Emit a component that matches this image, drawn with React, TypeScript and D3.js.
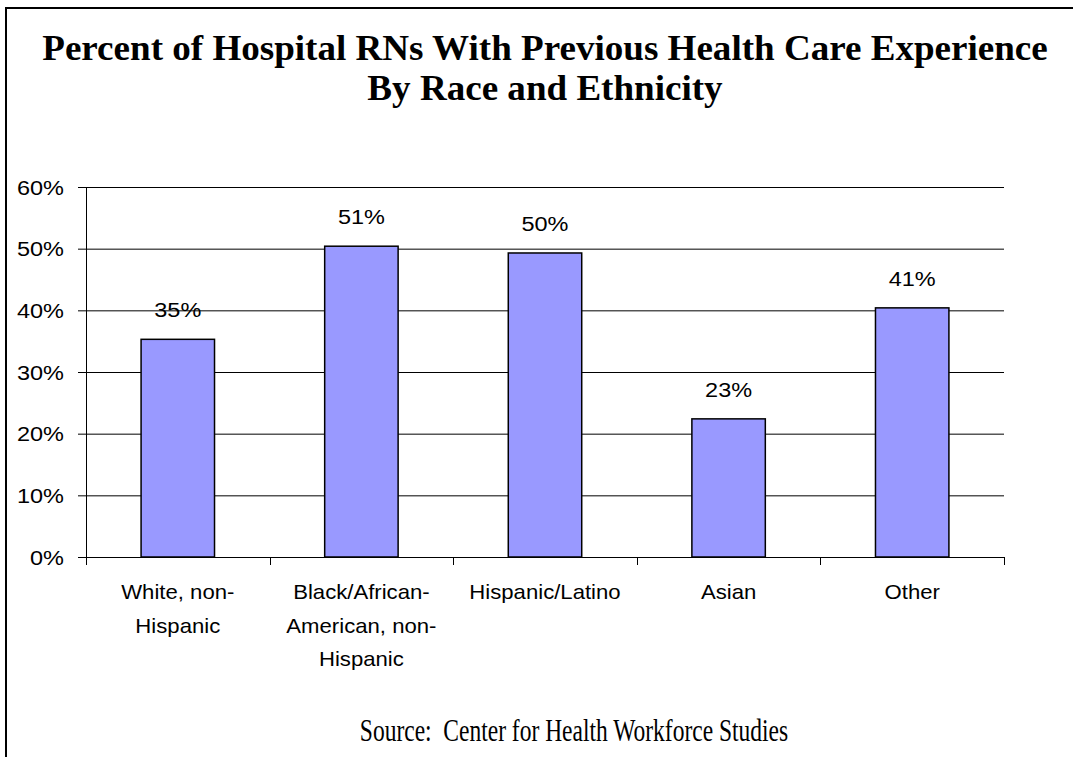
import { useEffect, useRef } from "react";
import * as d3 from "d3";

const W = 1073;
const H = 757;

const TITLE_LINES = [
  "Percent of Hospital RNs With Previous Health Care Experience",
  "By Race and Ethnicity",
];
const SOURCE = "Source:  Center for Health Workforce Studies";

const categories = [
  ["White, non-", "Hispanic"],
  ["Black/African-", "American, non-", "Hispanic"],
  ["Hispanic/Latino"],
  ["Asian"],
  ["Other"],
];
const values = [0.353, 0.504, 0.493, 0.224, 0.404];
const valueLabels = ["35%", "51%", "50%", "23%", "41%"];
const yTicks = [0, 0.1, 0.2, 0.3, 0.4, 0.5, 0.6];

const PLOT = { left: 86, right: 1004, top: 187, bottom: 557 };
const SANS = "'Liberation Sans', Arial, sans-serif";
const SERIF = "'Liberation Serif', 'Times New Roman', serif";
// the original chart was stretched a bit wider than its fonts
const SX = 1.12;

const at = (x: number, y: number, sx = SX, sy = 1) =>
  `translate(${x},${y}) scale(${sx},${sy})`;

export default function App() {
  const svgRef = useRef<SVGSVGElement>(null);

  useEffect(() => {
    const svg = d3.select(svgRef.current);
    svg.selectAll("*").remove();

    const keys = categories.map((_, i) => String(i));
    const x = d3
      .scaleBand<string>()
      .domain(keys)
      .range([PLOT.left, PLOT.right])
      .paddingInner(0.6)
      .paddingOuter(0.3);
    const y = d3.scaleLinear().domain([0, 0.6]).range([PLOT.bottom, PLOT.top]);

    // outer frame (only left + top edges fall inside the picture)
    svg
      .append("rect")
      .attr("x", 6)
      .attr("y", 8)
      .attr("width", W + 40)
      .attr("height", H + 40)
      .attr("fill", "#fff")
      .attr("stroke", "#000")
      .attr("stroke-width", 2);

    // title
    svg
      .append("g")
      .selectAll("text")
      .data(TITLE_LINES)
      .enter()
      .append("text")
      .attr("transform", (_, i) => at(545, 60 + i * 40, 1.03, 1))
      .attr("text-anchor", "middle")
      .attr("font-family", SERIF)
      .attr("font-weight", "bold")
      .attr("font-size", 36)
      .text((d) => d);

    // gridlines
    svg
      .append("g")
      .selectAll("line")
      .data(yTicks)
      .enter()
      .append("line")
      .attr("x1", PLOT.left - 8)
      .attr("x2", PLOT.right)
      .attr("y1", (d) => y(d) + 0.5)
      .attr("y2", (d) => y(d) + 0.5)
      .attr("stroke", "#000")
      .attr("stroke-width", 1);

    // y tick labels
    svg
      .append("g")
      .selectAll("text")
      .data(yTicks)
      .enter()
      .append("text")
      .attr("transform", (d) => at(64, y(d) + 7.5))
      .attr("text-anchor", "end")
      .attr("font-family", SANS)
      .attr("font-size", 21)
      .text((d) => d3.format(".0%")(d));

    // y axis line
    svg
      .append("line")
      .attr("x1", PLOT.left + 0.5)
      .attr("x2", PLOT.left + 0.5)
      .attr("y1", PLOT.top)
      .attr("y2", PLOT.bottom)
      .attr("stroke", "#000");

    // x ticks at category boundaries
    const step = x.step();
    const bounds = d3.range(keys.length + 1).map((i) => PLOT.left + i * step);
    svg
      .append("g")
      .selectAll("line")
      .data(bounds)
      .enter()
      .append("line")
      .attr("x1", (d) => Math.round(d) + 0.5)
      .attr("x2", (d) => Math.round(d) + 0.5)
      .attr("y1", PLOT.bottom)
      .attr("y2", PLOT.bottom + 8)
      .attr("stroke", "#000");

    // bars
    svg
      .append("g")
      .selectAll("rect")
      .data(values)
      .enter()
      .append("rect")
      .attr("x", (_, i) => x(String(i))!)
      .attr("y", (d) => y(d))
      .attr("width", x.bandwidth())
      .attr("height", (d) => y(0) - y(d))
      .attr("fill", "#9999FF")
      .attr("stroke", "#000")
      .attr("stroke-width", 1.5);

    // value labels
    svg
      .append("g")
      .selectAll("text")
      .data(values)
      .enter()
      .append("text")
      .attr("transform", (d, i) => at(x(String(i))! + x.bandwidth() / 2, y(d) - 22))
      .attr("text-anchor", "middle")
      .attr("font-family", SANS)
      .attr("font-size", 21)
      .text((_, i) => valueLabels[i]);

    // category labels
    categories.forEach((lines, i) => {
      const cx = x(String(i))! + x.bandwidth() / 2;
      svg
        .append("g")
        .selectAll("text")
        .data(lines)
        .enter()
        .append("text")
        .attr("transform", (_, j) => at(cx, 599 + j * 33.5, 1.08, 1))
        .attr("text-anchor", "middle")
        .attr("font-family", SANS)
        .attr("font-size", 20.5)
        .text((d) => d);
    });

    // source
    svg
      .append("text")
      .attr("transform", at(574, 741, 1, 1.3))
      .attr("text-anchor", "middle")
      .attr("font-family", SERIF)
      .attr("font-size", 23.5)
      .style("white-space", "pre")
      .text(SOURCE);
  }, []);

  return (
    <svg
      ref={svgRef}
      width={W}
      height={H}
      style={{ position: "absolute", left: 0, top: 0, background: "#fff" }}
    />
  );
}
